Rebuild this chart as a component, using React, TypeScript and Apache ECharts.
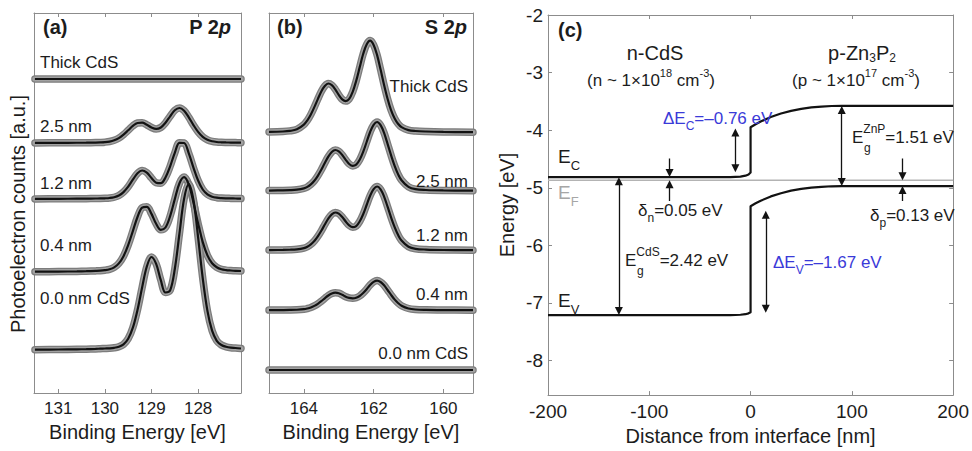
import React, { useEffect, useRef } from 'react';
import * as echarts from 'echarts';

const FONT = '"Liberation Sans", Arial, Helvetica, sans-serif';
const TXT = '#1c1c1c';
const FRAME = '#8c8c8c';
const BLUE = '#3a3ad8';
const HALO_OUT = '#7c7c7c';
const HALO_IN = '#a2a2a2';
const LINE = '#121212';

// ---------- Panel (a): P 2p ----------
const pEnergy = [131.5, 131.0, 130.6, 130.4, 130.2, 130.1, 130.0, 129.9, 129.8, 129.7, 129.6, 129.5, 129.4, 129.3, 129.2, 129.1, 129.0, 128.9, 128.8, 128.7, 128.6, 128.5, 128.4, 128.3, 128.2, 128.1, 128.0, 127.9, 127.8, 127.7, 127.6, 127.5, 127.4, 127.3, 127.2, 127.08];
const pThick = [0, 0, 0, 0, 0, 0, 0, 0, 0, 0, 0, 0, 0, 0, 0, 0, 0, 0, 0, 0, 0, 0, 0, 0, 0, 0, 0, 0, 0, 0, 0, 0, 0, 0, 0, 0];
const p25 = [0.1, 0.15, 0.25, 0.3, 0.43, 0.58, 0.85, 1.45, 2.7, 4.9, 8.4, 12.7, 17.1, 20.0, 20.3, 18.2, 15.5, 14.05, 15.5, 20.2, 26.7, 32.7, 35.0, 32.3, 25.7, 17.9, 11.1, 6.1, 3.2, 1.7, 1.0, 0.7, 0.55, 0.45, 0.38, 0.3];
const p12 = [0.1, 0.2, 0.3, 0.35, 0.5, 0.55, 0.7, 1.0, 1.75, 3.5, 6.9, 12.3, 19.3, 25.7, 28.5, 26.3, 21.0, 16.3, 15.8, 21.5, 32.7, 46.2, 56.2, 56.0, 45.7, 31.4, 18.5, 9.5, 4.6, 2.3, 1.3, 0.9, 0.7, 0.6, 0.5, 0.4];
const p04 = [0.3, 0.4, 0.6, 0.8, 1.1, 1.3, 1.8, 2.7, 4.6, 8.6, 15.8, 26.9, 40.9, 55.0, 64.4, 65.2, 58.1, 48.2, 42.2, 44.5, 55.9, 72.9, 88.8, 94.9, 87.5, 69.6, 48.5, 29.9, 16.6, 8.7, 4.7, 2.7, 1.9, 1.5, 1.2, 1.0];
const p00 = [0.3, 0.5, 0.7, 0.85, 1.1, 1.3, 1.5, 1.7, 2.2, 3.3, 5.7, 11.3, 22.3, 40.1, 62.8, 83.5, 93, 86.1, 69.8, 57.5, 59.6, 81, 116.5, 151.4, 166, 150, 112.6, 71.5, 39.1, 19.3, 9.2, 5.0, 3.2, 2.3, 2.0, 1.5];
const pOffsets = [314, 250, 194, 121, 43];
const pLabels = ['Thick CdS', '2.5 nm', '1.2 nm', '0.4 nm', '0.0 nm CdS'];
const pTicks = [128, 129, 130, 131];

// ---------- Panel (b): S 2p ----------
const sEnergy = [165.0, 164.6, 164.4, 164.2, 164.0, 163.9, 163.8, 163.7, 163.6, 163.5, 163.4, 163.3, 163.2, 163.1, 163.0, 162.9, 162.8, 162.7, 162.6, 162.5, 162.4, 162.3, 162.2, 162.1, 162.0, 161.9, 161.8, 161.7, 161.6, 161.5, 161.4, 161.3, 161.2, 161.0, 160.8, 160.5, 160.0, 159.15];
const sThick = [0.6, 1.0, 1.6, 3.2, 7.9, 12.2, 18.1, 25.4, 33.4, 41.1, 46.5, 49.0, 47.4, 43.2, 37.6, 33.1, 31.4, 33.6, 40.7, 51.6, 65.1, 78.5, 88.1, 91.9, 87.6, 77.4, 62.9, 47.6, 33.8, 22.4, 14.3, 8.75, 5.4, 2.4, 1.5, 1.0, 0.6, 0.3];
const s25 = [0.45, 0.6, 0.8, 1.3, 2.6, 4.1, 6.6, 10.2, 15.2, 21.2, 28.0, 34.4, 39.0, 41.0, 39.7, 36.0, 31.2, 27.0, 25.1, 26.3, 31.2, 39.1, 49.0, 59.0, 66.1, 69.0, 65.8, 58.1, 47.2, 35.8, 25.4, 16.9, 10.8, 4.1, 1.8, 1.0, 0.55, 0.3];
const s12 = [0.42, 0.56, 0.74, 1.2, 2.4, 3.8, 6.1, 9.5, 14.1, 19.7, 26.0, 31.9, 36.2, 38.0, 36.8, 33.4, 29.0, 25.1, 23.3, 24.4, 29.0, 36.3, 45.5, 54.8, 61.3, 64.0, 61.1, 53.9, 43.8, 33.2, 23.6, 15.7, 10.0, 3.8, 1.7, 0.93, 0.5, 0.28];
const s04 = [0.19, 0.26, 0.34, 0.56, 1.1, 1.8, 2.8, 4.4, 6.5, 9.1, 12.0, 14.8, 16.8, 17.6, 17.1, 15.5, 13.6, 12.4, 12.0, 12.6, 14.3, 17.3, 21.1, 25.4, 28.4, 29.7, 28.3, 25.0, 20.3, 15.4, 10.9, 7.3, 4.6, 1.8, 0.8, 0.43, 0.24, 0.13];
const s00 = [0, 0, 0, 0, 0, 0, 0, 0, 0, 0, 0, 0, 0, 0, 0, 0, 0, 0, 0, 0, 0, 0, 0, 0, 0, 0, 0, 0, 0, 0, 0, 0, 0, 0, 0, 0, 0, 0];
const sOffsets = [260.5, 202, 142.5, 82.7, 23];
const sLabels = ['Thick CdS', '2.5 nm', '1.2 nm', '0.4 nm', '0.0 nm CdS'];
const sTicks = [160, 162, 164];

// ---------- Panel (c): band diagram ----------
const bandX = [-200, -20, -10, -5, -2, 0, 0, 5, 10, 20, 30, 40, 50, 60, 70, 80, 90, 200];
const ecY = [-4.815, -4.815, -4.805, -4.79, -4.77, -4.735, -3.95, -3.898, -3.85, -3.77, -3.71, -3.665, -3.63, -3.605, -3.59, -3.58, -3.578, -3.578];
const evY = [-7.21, -7.21, -7.205, -7.195, -7.18, -7.16, -5.32, -5.27, -5.225, -5.15, -5.095, -5.05, -5.02, -4.997, -4.983, -4.974, -4.971, -4.97];
const efY = -4.87;
const eTicks = [-8, -7, -6, -5, -4, -3, -2];
// double-headed arrows: [x, end1, end2]
const dblArrows = [
  [-130, -4.885, -7.14],
  [-15, -4.04, -4.66],
  [90, -3.648, -4.9],
  [15, -5.47, -7.1],
];
// single arrows: [x, tail, head]
const sglArrows = [
  [-80, -4.49, -4.745],
  [-80, -5.23, -4.94],
  [150, -4.49, -4.8],
  [150, -5.23, -5.04],
];

function richSet(size: number, color: string, lh: number, small: number, weight: string) {
  const base: any = { fontSize: size, fontFamily: FONT, fontWeight: weight, fill: color, lineHeight: lh, verticalAlign: 'middle' };
  return {
    n: base,
    s: { ...base, fontSize: small, verticalAlign: 'bottom' },
    p: { ...base, fontSize: small, verticalAlign: 'top' },
    i: { ...base, fontStyle: 'italic' },
  };
}

function label(x: number, y: number, text: string, size: number, opt: any = {}) {
  const color = opt.color ?? TXT;
  const lh = opt.lh ?? size + 11;
  const weight = opt.weight ?? 'normal';
  const align = opt.align ?? 'left';
  return {
    type: 'text',
    x,
    y,
    rotation: opt.rotation ?? 0,
    silent: true,
    z: 50,
    style: {
      x: 0,
      y: 0,
      text,
      fill: color,
      fontSize: size,
      fontFamily: FONT,
      fontWeight: weight,
      align,
      textAlign: align,
      verticalAlign: 'middle',
      textVerticalAlign: 'middle',
      lineHeight: lh,
      rich: richSet(size, color, lh, opt.small ?? Math.round(size * 0.68), weight),
    },
  };
}

function stack(xs: number[], curves: number[][], offsets: number[], xi: number, yi: number) {
  const res: any[] = [];
  curves.forEach((vals, k) => {
    const data = xs.map((x, i) => [x, vals[i] + offsets[k]]);
    res.push({
      type: 'line', xAxisIndex: xi, yAxisIndex: yi, data, smooth: 0.35, symbol: 'none', silent: true, z: 2,
      lineStyle: { color: HALO_OUT, width: 7.5, cap: 'round', join: 'round' },
    });
    res.push({
      type: 'line', xAxisIndex: xi, yAxisIndex: yi, data, smooth: 0.35, symbol: 'none', silent: true, z: 2,
      lineStyle: { color: HALO_IN, width: 5, cap: 'round', join: 'round' },
    });
    res.push({
      type: 'line', xAxisIndex: xi, yAxisIndex: yi, data, smooth: 0.35, symbol: 'none', silent: true, z: 3,
      lineStyle: { color: LINE, width: 2.2 },
    });
  });
  return res;
}

const frameLine = { show: true, onZero: false, lineStyle: { color: FRAME, width: 1 } };
const tickIn = (vals?: number[]) => ({ show: true, inside: true, length: 4, lineStyle: { color: FRAME }, ...(vals ? { customValues: vals } : {}) });
const noTick = { show: false };
const noLabel = { show: false };
const noSplit = { show: false };

export default function App() {
  const ref = useRef<HTMLDivElement>(null);
  useEffect(() => {
    if (!ref.current) return;
    const chart = echarts.init(ref.current, null, { renderer: 'svg' });

    const xAxis: any[] = [
      {
        gridIndex: 0, type: 'value', position: 'bottom', min: 127.08, max: 131.52, inverse: true,
        axisLine: frameLine, axisTick: tickIn(pTicks),
        axisLabel: { show: true, customValues: pTicks, margin: 7, color: TXT, fontSize: 17, fontFamily: FONT },
        splitLine: noSplit,
        name: 'Binding Energy [eV]', nameLocation: 'middle', nameGap: 27,
        nameTextStyle: { color: TXT, fontSize: 20, fontFamily: FONT },
      },
      {
        gridIndex: 0, type: 'value', position: 'top', min: 127.08, max: 131.52, inverse: true,
        axisLine: frameLine, axisTick: tickIn(pTicks), axisLabel: noLabel, splitLine: noSplit,
      },
      {
        gridIndex: 1, type: 'value', position: 'bottom', min: 159.15, max: 165.0, inverse: true,
        axisLine: frameLine, axisTick: tickIn(sTicks),
        axisLabel: { show: true, customValues: sTicks, margin: 7, color: TXT, fontSize: 17, fontFamily: FONT },
        splitLine: noSplit,
        name: 'Binding Energy [eV]', nameLocation: 'middle', nameGap: 27,
        nameTextStyle: { color: TXT, fontSize: 20, fontFamily: FONT },
      },
      {
        gridIndex: 1, type: 'value', position: 'top', min: 159.15, max: 165.0, inverse: true,
        axisLine: frameLine, axisTick: tickIn(sTicks), axisLabel: noLabel, splitLine: noSplit,
      },
      {
        gridIndex: 2, type: 'value', position: 'bottom', min: -200, max: 200, interval: 100,
        axisLine: frameLine, axisTick: tickIn(),
        axisLabel: { show: true, margin: 7, color: TXT, fontSize: 19, fontFamily: FONT },
        splitLine: noSplit,
        name: 'Distance from interface [nm]', nameLocation: 'middle', nameGap: 28,
        nameTextStyle: { color: TXT, fontSize: 20, fontFamily: FONT },
      },
      {
        gridIndex: 2, type: 'value', position: 'top', min: -200, max: 200, interval: 100,
        axisLine: frameLine, axisTick: tickIn(), axisLabel: noLabel, splitLine: noSplit,
      },
    ];

    const yAxis: any[] = [
      { gridIndex: 0, type: 'value', position: 'left', min: 0, max: 380, axisLine: frameLine, axisTick: noTick, axisLabel: noLabel, splitLine: noSplit },
      { gridIndex: 0, type: 'value', position: 'right', min: 0, max: 380, axisLine: frameLine, axisTick: noTick, axisLabel: noLabel, splitLine: noSplit },
      { gridIndex: 1, type: 'value', position: 'left', min: 0, max: 380, axisLine: frameLine, axisTick: noTick, axisLabel: noLabel, splitLine: noSplit },
      { gridIndex: 1, type: 'value', position: 'right', min: 0, max: 380, axisLine: frameLine, axisTick: noTick, axisLabel: noLabel, splitLine: noSplit },
      {
        gridIndex: 2, type: 'value', position: 'left', min: -8.6, max: -2,
        axisLine: frameLine, axisTick: tickIn(eTicks),
        axisLabel: { show: true, customValues: eTicks, margin: 5, color: TXT, fontSize: 19, fontFamily: FONT },
        splitLine: noSplit,
        name: 'Energy [eV]', nameLocation: 'middle', nameGap: 31,
        nameTextStyle: { color: TXT, fontSize: 20, fontFamily: FONT },
      },
      {
        gridIndex: 2, type: 'value', position: 'right', min: -8.6, max: -2,
        axisLine: frameLine, axisTick: tickIn(eTicks), axisLabel: noLabel, splitLine: noSplit,
      },
    ];

    const series: any[] = [
      ...stack(pEnergy, [pThick, p25, p12, p04, p00], pOffsets, 0, 0),
      ...stack(sEnergy, [sThick, s25, s12, s04, s00], sOffsets, 2, 2),
      {
        type: 'line', xAxisIndex: 4, yAxisIndex: 4, symbol: 'none', silent: true, z: 1,
        data: [[-200, efY], [200, efY]], lineStyle: { color: '#b3b3b3', width: 1.5 },
      },
      {
        type: 'line', xAxisIndex: 4, yAxisIndex: 4, symbol: 'none', silent: true, z: 3,
        data: bandX.map((x, i) => [x, ecY[i]]), lineStyle: { color: LINE, width: 2.2, join: 'round' },
      },
      {
        type: 'line', xAxisIndex: 4, yAxisIndex: 4, symbol: 'none', silent: true, z: 3,
        data: bandX.map((x, i) => [x, evY[i]]), lineStyle: { color: LINE, width: 2.2, join: 'round' },
      },
      {
        type: 'lines', coordinateSystem: 'cartesian2d', xAxisIndex: 4, yAxisIndex: 4, silent: true, z: 4,
        symbol: ['triangle', 'triangle'], symbolSize: 8,
        lineStyle: { color: LINE, width: 1.3, opacity: 1, curveness: 0 },
        data: dblArrows.map((a) => ({ coords: [[a[0], a[1]], [a[0], a[2]]] })),
      },
      {
        type: 'lines', coordinateSystem: 'cartesian2d', xAxisIndex: 4, yAxisIndex: 4, silent: true, z: 4,
        symbol: ['none', 'triangle'], symbolSize: 8,
        lineStyle: { color: LINE, width: 1.3, opacity: 1, curveness: 0 },
        data: sglArrows.map((a) => ({ coords: [[a[0], a[1]], [a[0], a[2]]] })),
      },
    ];

    const pLabelY = [62, 126, 183, 245, 298];
    const sLabelY = [86, 181, 235, 294, 353];

    const graphics: any[] = [
      label(43, 27, '(a)', 20, { weight: 'bold' }),
      label(231, 27, '{n|P 2}{i|p}', 20, { weight: 'bold', align: 'right' }),
      ...pLabels.map((t, k) => label(40, pLabelY[k], t, 17)),
      label(18, 214, 'Photoelectron counts [a.u.]', 20, { align: 'center', rotation: Math.PI / 2 }),
      label(277, 27, '(b)', 20, { weight: 'bold' }),
      label(467, 27, '{n|S 2}{i|p}', 20, { weight: 'bold', align: 'right' }),
      ...sLabels.map((t, k) => label(468, sLabelY[k], t, 17, { align: 'right' })),
      label(558, 30, '(c)', 20, { weight: 'bold' }),
      label(655, 53, 'n-CdS', 20, { align: 'center' }),
      label(651, 80, '{n|(n ~ 1×10}{p|18}{n| cm}{p|-3}{n|)}', 17, { align: 'center', lh: 26, small: 11 }),
      label(862, 53, '{n|p-Zn}{s|3}{n|P}{s|2}', 20, { align: 'center', lh: 22, small: 12 }),
      label(856, 80, '{n|(p ~ 1×10}{p|17}{n| cm}{p|-3}{n|)}', 17, { align: 'center', lh: 26, small: 11 }),
      label(663, 118, '{n|ΔE}{s|C}{n|=–0.76 eV}', 17, { color: BLUE, small: 12 }),
      label(852, 137, '{n|E}{p|ZnP}{n|=1.51 eV}', 17, { small: 12 }),
      label(864, 148, 'g', 12),
      label(638, 210, '{n|δ}{s|n}{n|=0.05 eV}', 17, { small: 12 }),
      label(870, 215, '{n|δ}{s|p}{n|=0.13 eV}', 17, { small: 12 }),
      label(558, 156, '{n|E}{s|C}', 19, { lh: 31, small: 13 }),
      label(558, 192, '{n|E}{s|F}', 19, { lh: 31, small: 13, color: '#a6a6a6' }),
      label(558, 300, '{n|E}{s|V}', 19, { lh: 31, small: 13 }),
      label(625, 260, '{n|E}{p|CdS}{n|=2.42 eV}', 17, { small: 12 }),
      label(637, 271, 'g', 12),
      label(773, 262, '{n|ΔE}{s|V}{n|=–1.67 eV}', 17, { color: BLUE, small: 12 }),
    ];

    chart.setOption({
      animation: false,
      backgroundColor: '#ffffff',
      grid: [
        { left: 34, top: 13, width: 207, height: 380 },
        { left: 269, top: 13, width: 204, height: 380 },
        { left: 548, top: 15, width: 409, height: 385 },
      ],
      xAxis,
      yAxis,
      series,
      graphic: graphics,
    });
    return () => chart.dispose();
  }, []);

  return (
    <div
      ref={ref}
      style={{ position: 'fixed', left: 0, top: 0, width: 972, height: 451, background: '#fff' }}
    />
  );
}
